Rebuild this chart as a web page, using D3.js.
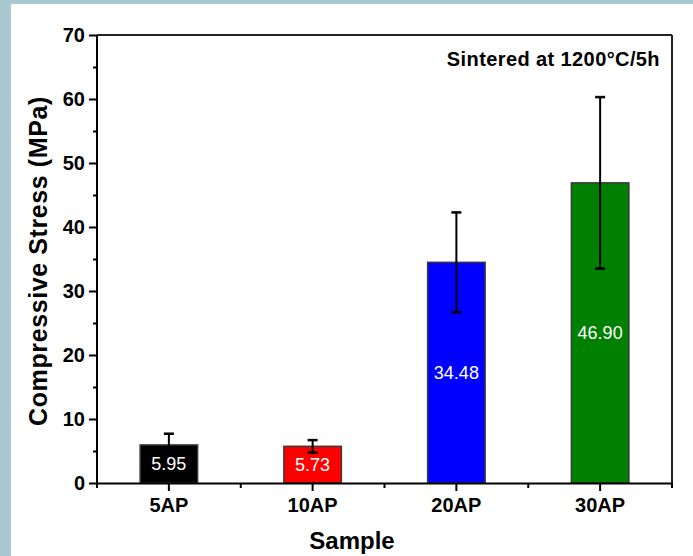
<!DOCTYPE html>
<html>
<head>
<meta charset="utf-8">
<script src="https://cdn.jsdelivr.net/npm/d3@7"></script>
<style>
  html, body { margin: 0; padding: 0; background: #fff; }
  svg { display: block; font-family: "Liberation Sans", Arial, sans-serif; }
</style>
</head>
<body>
<svg id="chart" width="693" height="556"></svg>
<script>
// Compressive stress of samples sintered at 1200 °C for 5 h
const samples = ["5AP", "10AP", "20AP", "30AP"];
const stress = [5.95, 5.73, 34.48, 46.90];
const stressErr = [1.75, 0.97, 7.8, 13.4];
const barColors = ["#000000", "#ff0000", "#0000ff", "#008000"];
const yTicks = [0, 10, 20, 30, 40, 50, 60, 70];
const yMinorTicks = [5, 15, 25, 35, 45, 55, 65];

const svg = d3.select("#chart");
const W = 693, H = 556;

// page frame
svg.append("rect").attr("x", 0).attr("y", 0).attr("width", W).attr("height", H).attr("fill", "#a9c9d1");
svg.append("rect").attr("x", 11).attr("y", 4).attr("width", W - 11).attr("height", H - 4).attr("fill", "#ffffff");

const plotL = 97, plotR = 672, plotT = 35, plotB = 483;

const x = d3.scaleBand().domain(samples).range([plotL, plotR])
  .paddingInner(0.6).paddingOuter(0.3);
const y = d3.scaleLinear().domain([0, 70]).range([plotB, plotT]);
const step = x.step();

// bars
const g = svg.append("g");
g.selectAll("rect.bar").data(samples).join("rect")
  .attr("class", "bar")
  .attr("x", d => x(d))
  .attr("y", (d, i) => y(stress[i]))
  .attr("width", x.bandwidth())
  .attr("height", (d, i) => y(0) - y(stress[i]))
  .attr("fill", (d, i) => barColors[i])
  .attr("stroke", "#3a3a3a")
  .attr("stroke-width", 1.5);

// error bars
const eb = g.selectAll("g.err").data(samples).join("g").attr("class", "err")
  .attr("stroke", "#000").attr("stroke-width", 2);
const cx = d => x(d) + x.bandwidth() / 2;
eb.append("line")
  .attr("x1", cx).attr("x2", cx)
  .attr("y1", (d, i) => y(stress[i] - stressErr[i]))
  .attr("y2", (d, i) => y(stress[i] + stressErr[i]));
eb.append("line")
  .attr("x1", d => cx(d) - 5).attr("x2", d => cx(d) + 5)
  .attr("y1", (d, i) => y(stress[i] + stressErr[i]))
  .attr("y2", (d, i) => y(stress[i] + stressErr[i]))
  .attr("stroke-width", 2.5);
eb.append("line")
  .attr("x1", d => cx(d) - 5).attr("x2", d => cx(d) + 5)
  .attr("y1", (d, i) => y(stress[i] - stressErr[i]))
  .attr("y2", (d, i) => y(stress[i] - stressErr[i]))
  .attr("stroke-width", 2.5);

// value labels inside bars
g.selectAll("text.val").data(samples).join("text")
  .attr("class", "val")
  .attr("x", cx)
  .attr("y", (d, i) => (y(stress[i]) + y(0)) / 2)
  .attr("dy", "0.36em")
  .attr("text-anchor", "middle")
  .attr("fill", "#fff")
  .attr("font-size", 18)
  .text((d, i) => stress[i].toFixed(2));

// frame lines (top, right)
svg.append("line").attr("x1", plotL).attr("x2", plotR).attr("y1", plotT).attr("y2", plotT)
  .attr("stroke", "#222").attr("stroke-width", 2);
svg.append("line").attr("x1", plotR).attr("x2", plotR).attr("y1", plotT).attr("y2", plotB)
  .attr("stroke", "#222").attr("stroke-width", 2);

// y axis
const yAxis = svg.append("g").attr("transform", `translate(${plotL},0)`)
  .call(d3.axisLeft(y).tickValues(yTicks).tickSize(8).tickPadding(4).tickFormat(d3.format("d")));
const yMinor = svg.append("g").attr("transform", `translate(${plotL},0)`)
  .call(d3.axisLeft(y).tickValues(yMinorTicks).tickSize(4).tickFormat(""));
yMinor.select(".domain").remove();

// x axis
const xAxis = svg.append("g").attr("transform", `translate(0,${plotB})`)
  .call(d3.axisBottom(x).tickSize(8).tickSizeOuter(0).tickPadding(7));
// minor ticks between samples
const minorX = [plotL].concat(samples.map(d => x(d) - x.paddingOuter() * step + step));
svg.append("g").selectAll("line").data(minorX).join("line")
  .attr("x1", d => d).attr("x2", d => d)
  .attr("y1", plotB).attr("y2", plotB + 5)
  .attr("stroke", "#000").attr("stroke-width", 2);

[yAxis, xAxis, yMinor].forEach(a => {
  a.selectAll(".domain").attr("stroke", "#000").attr("stroke-width", 2);
  a.selectAll(".tick line").attr("stroke", "#000").attr("stroke-width", 2);
  a.selectAll(".tick text").attr("fill", "#000").attr("font-size", 20)
    .attr("font-weight", "bold").attr("font-family", "Liberation Sans, Arial, sans-serif");
});
yAxis.select(".domain").attr("d", `M0,${plotB}V${plotT}`);

// axis titles
svg.append("text")
  .attr("transform", `translate(47,261) rotate(-90)`)
  .attr("text-anchor", "middle")
  .attr("font-size", 25).attr("font-weight", "bold")
  .attr("letter-spacing", 0.6)
  .text("Compressive Stress (MPa)");
svg.append("text")
  .attr("x", 352).attr("y", 549)
  .attr("text-anchor", "middle")
  .attr("font-size", 24).attr("font-weight", "bold")
  .text("Sample");

// annotation
svg.append("text")
  .attr("x", 660).attr("y", 66)
  .attr("text-anchor", "end")
  .attr("font-size", 20).attr("font-weight", "bold")
  .attr("letter-spacing", 0.4)
  .text("Sintered at 1200°C/5h");
</script>
</body>
</html>
